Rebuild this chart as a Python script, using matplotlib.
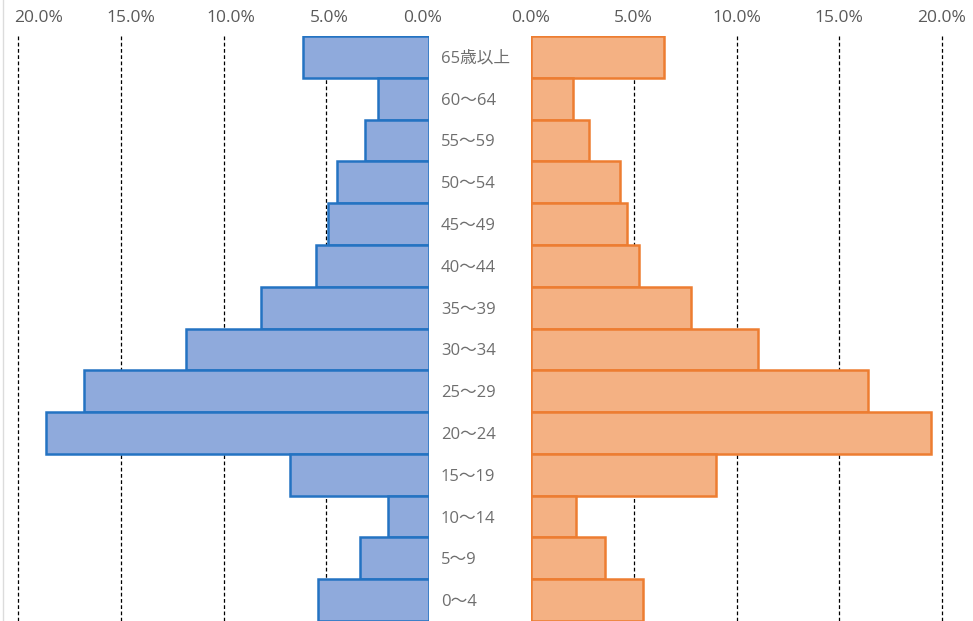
import matplotlib
matplotlib.use('Agg')
import matplotlib.pyplot as plt
from matplotlib.ticker import FuncFormatter
from matplotlib.transforms import ScaledTranslation

plt.rcParams['font.family'] = ['Open Sans', 'Noto Sans CJK JP', 'DejaVu Sans']

# age groups, top to bottom
ages = ['65歳以上', '60〜64', '55〜59', '50〜54', '45〜49', '40〜44', '35〜39',
        '30〜34', '25〜29', '20〜24', '15〜19', '10〜14', '5〜9', '0〜4']
male = [6.13, 2.48, 3.11, 4.48, 4.91, 5.50, 8.18, 11.83, 16.79, 18.64, 6.76, 2.00, 3.36, 5.40]
female = [6.47, 2.04, 2.82, 4.33, 4.67, 5.26, 7.79, 11.05, 16.40, 19.46, 9.00, 2.19, 3.60, 5.45]
ticks = [0, 5, 10, 15, 20]

W, H = 973, 621
fig = plt.figure(figsize=(W / 100, H / 100), dpi=100)
top = 36
ax_l = fig.add_axes([18 / W, 0, (429 - 18) / W, (H - top) / H])
ax_r = fig.add_axes([531 / W, 0, (942 - 531) / W, (H - top) / H])

ypos = list(range(len(ages)))[::-1]
fmt = FuncFormatter(lambda v, p: f'{v:.1f}%')


def style(ax):
    ax.set_xlim(0, 20)
    ax.set_ylim(-0.5, len(ages) - 0.5)
    ax.set_xticks(ticks)
    ax.xaxis.set_major_formatter(fmt)
    ax.xaxis.tick_top()
    ax.tick_params(axis='x', length=0, pad=7, labelsize=12.5, labelcolor='#5a5a5a')
    ax.set_yticks([])
    for s in ax.spines.values():
        s.set_visible(False)
    for t in ticks[1:]:
        ax.axvline(t, color='black', linestyle=(0, (3, 2)), linewidth=0.9,
                   zorder=0, clip_on=False)


ax_l.barh(ypos, male, height=1.0, color='#8FAADC', edgecolor='#2473C2',
          linewidth=1.8, zorder=2)
ax_r.barh(ypos, female, height=1.0, color='#F4B183', edgecolor='#ED7D31',
          linewidth=1.8, zorder=2)
style(ax_l)
style(ax_r)
ax_l.invert_xaxis()

# left-side labels sit a little off their gridlines in the original
fig.canvas.draw()
for lab, dx in zip(ax_l.get_xticklabels(), [-6, 3, 7, 10, 21]):
    lab.set_transform(lab.get_transform() + ScaledTranslation(dx / 100, 0, fig.dpi_scale_trans))

for y, lab in zip(ypos, ages):
    fig.text(441 / W, (ax_l.transData.transform((0, y))[1] - 2) / H, lab,
             ha='left', va='center', fontsize=12, color='#6e6e6e')

# faint frame line on the left edge
fig.add_artist(plt.Line2D([3 / W, 3 / W], [0, 1], color='#dcdcdc', linewidth=1))

fig.savefig('out.png', dpi=100)
